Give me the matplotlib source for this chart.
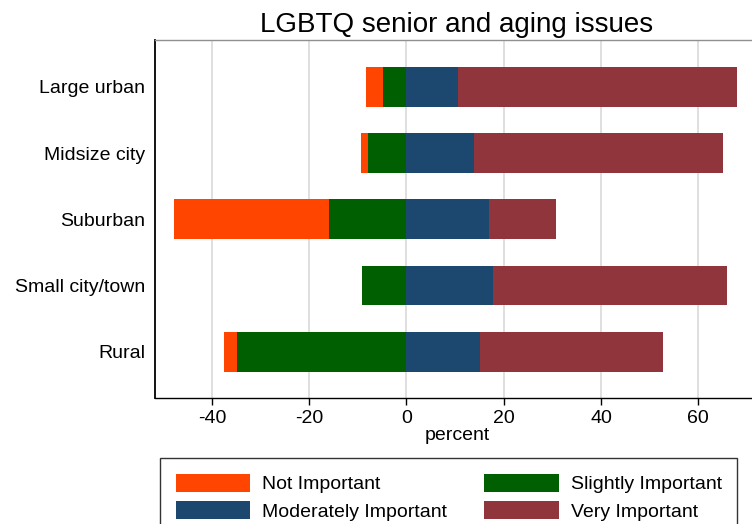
import numpy as np
import matplotlib.pyplot as plt
from matplotlib.patches import Patch

### Data (percent of respondents)
categories = ['Large urban', 'Midsize city', 'Suburban', 'Small city/town', 'Rural']
not_imp = [3.6, 1.3, 31.9, 0.0, 2.7]
slightly = [4.8, 8.0, 15.9, 9.1, 34.8]
moderately = [10.7, 13.9, 17.0, 17.8, 15.1]
very = [57.2, 51.3, 13.8, 48.1, 37.6]
labels = ['Not Important', 'Slightly Important', 'Moderately Important', 'Very Important']
colors = ['#ff4500', '#005f00', '#1c476f', '#90353b']
xticks = [-40, -20, 0, 20, 40, 60]

plt.rcParams['font.family'] = ['Liberation Sans', 'DejaVu Sans']

fig = plt.figure(figsize=(7.52, 5.24), dpi=100)
ax = fig.add_axes([0.2056, 0.2405, 0.8043, 0.6832])

y = np.arange(len(categories))
nb = np.array(not_imp)
sl = np.array(slightly)
mo = np.array(moderately)
ve = np.array(very)
h = 0.6

### Negative side: slightly then not important further left
ax.barh(y, -nb, left=-sl, height=h, color=colors[0], zorder=3)
ax.barh(y, -sl, left=0, height=h, color=colors[1], zorder=3)
### Positive side
ax.barh(y, mo, left=0, height=h, color=colors[2], zorder=3)
ax.barh(y, ve, left=mo, height=h, color=colors[3], zorder=3)

ax.set_xlim(-51.8, 72.6)
ax.set_ylim(4.7, -0.71)
ax.set_yticks(y)
ax.set_yticklabels(categories, fontsize=14)
ax.set_xticks(xticks)
ax.set_xticklabels([str(t) for t in xticks], fontsize=14)
ax.tick_params(axis='y', length=0, pad=7)
ax.tick_params(axis='x', length=5, width=1, pad=4)
ax.grid(True, axis='x', color='#dcdcdc', linewidth=1.3, zorder=0)
ax.set_axisbelow(True)

ax.spines['top'].set_color('#909090')
ax.spines['top'].set_linewidth(1)
ax.spines['right'].set_visible(False)
ax.spines['left'].set_linewidth(1.3)
ax.spines['bottom'].set_linewidth(1)

ax.set_xlabel('percent', fontsize=14, labelpad=0)
ax.set_title('LGBTQ senior and aging issues', fontsize=20, pad=6)

### Legend (matplotlib fills columns first, so reorder to get row order)
order = [0, 2, 1, 3]
handles = [Patch(facecolor=colors[i], edgecolor='none') for i in order]
fig.legend(handles, [labels[i] for i in order], loc='upper left',
           bbox_to_anchor=(160/752, 1-458/524),
           ncol=2, fontsize=14, frameon=True, fancybox=False, edgecolor='black',
           handlelength=3.85, handleheight=1.05, handletextpad=0.6,
           columnspacing=1.9, labelspacing=0.4, borderpad=0.8, borderaxespad=0)
fig.legends[0].get_frame().set_linewidth(1)

fig.savefig('out.png', dpi=100)
